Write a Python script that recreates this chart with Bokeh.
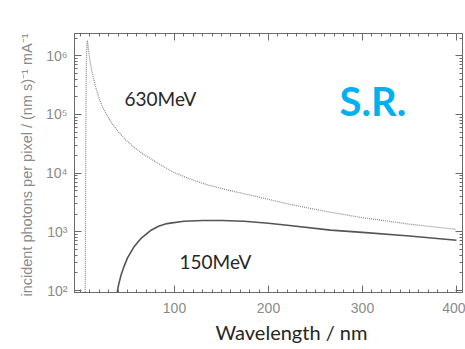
from bokeh.plotting import figure
from bokeh.models import (Range1d, FixedTicker, LinearAxis, LogAxis, Label,
                          CustomJSTickFormatter, Title)
from bokeh.embed import file_html
from bokeh.resources import INLINE

# ---- data ----
lambda_630 = [5.0, 5.3, 5.6, 6.0, 6.5, 7.1, 8.0, 9.2, 10.5, 12.0, 14.0, 16.5,
              19.5, 23.0, 27.7, 33, 40, 48, 57, 68, 80, 98, 115, 135, 160,
              190, 220, 260, 300, 350, 400]
flux_630 = [50, 1000, 32000, 320000, 1200000, 1820000, 1510000, 1000000,
            740000, 550000, 400000, 282000, 195000, 138000, 100000, 72000,
            51000, 37000, 27500, 20400, 15500, 10500, 8100, 6300, 5000, 3900,
            3000, 2240, 1740, 1350, 1100]

lambda_150 = [38.0, 39.0, 40.5, 43, 46, 50, 56.7, 65, 74.5, 83, 92, 110, 130,
              150, 174, 200, 220, 266, 300, 350, 400]
flux_150 = [70, 92, 125, 180, 250, 360, 550, 790, 1050, 1240, 1380, 1510,
            1560, 1560, 1510, 1400, 1290, 1070, 980, 850, 720]

x_major = [100, 200, 300, 400]
x_minor = list(range(0, 410, 10))
y_major = [1e2, 1e3, 1e4, 1e5, 1e6]
y_minor = [k * 10 ** n for n in range(1, 7) for k in range(2, 10)]

label_630 = "630MeV"
label_150 = "150MeV"
label_sr = "S.R."
x_title = "Wavelength / nm"
y_title = "incident photons per pixel / (nm s)\u207b\u00b9  mA\u207b\u00b9"

AX = "#6a6a6a"
TXT = "#8a8a8a"

p = figure(width=465, height=349, y_axis_type="log",
           x_range=Range1d(-6.4, 406.4), y_range=Range1d(92.5, 2.39e6),
           output_backend="svg", toolbar_location=None,
           min_border_left=74, min_border_right=3, min_border_top=33,
           min_border_bottom=57)
p.background_fill_color = "white"
p.border_fill_color = "white"
p.outline_line_color = AX
p.grid.visible = False

sup_code = """
const s = "\u2070\u00b9\u00b2\u00b3\u2074\u2075\u2076\u2077\u2078\u2079";
const e = Math.round(Math.log10(tick));
return "10" + String(e).split("").map(c => s[+c]).join("");
"""

def style_axis(ax, show):
    ax.axis_line_color = AX
    ax.major_tick_line_color = AX
    ax.minor_tick_line_color = AX
    ax.major_tick_in = 7
    ax.major_tick_out = 0
    ax.minor_tick_in = 3
    ax.minor_tick_out = 0
    if not show:
        ax.formatter = CustomJSTickFormatter(code="return '';")
        ax.major_label_text_font_size = "0px"
        ax.major_label_standoff = 0
    else:
        ax.major_label_text_font = "Liberation Sans"
        ax.major_label_text_font_size = "14px"
        ax.major_label_text_color = TXT

xt = FixedTicker(ticks=x_major, minor_ticks=x_minor)
yt = FixedTicker(ticks=y_major, minor_ticks=y_minor)

p.xaxis.ticker = xt
p.yaxis.ticker = yt
style_axis(p.xaxis[0], True)
style_axis(p.yaxis[0], True)
p.xaxis.major_label_standoff = 10
p.yaxis.major_label_standoff = 7
p.yaxis.formatter = CustomJSTickFormatter(code=sup_code)
p.yaxis.axis_label = y_title
p.yaxis.axis_label_text_font = "Liberation Sans"
p.yaxis.axis_label_text_font_size = "14.5px"
p.yaxis.axis_label_text_font_style = "normal"
p.yaxis.axis_label_text_color = TXT
p.yaxis.axis_label_standoff = 8

top = LinearAxis(ticker=FixedTicker(ticks=x_major, minor_ticks=x_minor))
style_axis(top, False)
p.add_layout(top, "above")
right = LogAxis(ticker=FixedTicker(ticks=y_major, minor_ticks=y_minor))
style_axis(right, False)
p.add_layout(right, "right")

p.line(lambda_630, flux_630, line_color="#8f8f8f", line_width=1.3,
       line_dash="1 1")
p.line(lambda_150, flux_150, line_color="#555555", line_width=1.6)

p.add_layout(Label(x=85, y=1.86e5, text=label_630, text_align="center",
                   text_baseline="middle", text_font="Lato",
                   text_font_size="19px", text_color="#262626"))
p.add_layout(Label(x=143.6, y=312, text=label_150, text_align="center",
                   text_baseline="middle", text_font="Lato",
                   text_font_size="19px", text_color="#262626"))
p.add_layout(Label(x=311, y=1.66e5, text=label_sr, text_align="center",
                   text_baseline="middle", text_font="Lato",
                   text_font_size="40px", text_font_style="bold",
                   text_color="#00B0F0"))

p.add_layout(Title(text=x_title, align="left", offset=141,
                   text_font="Lato", text_font_size="20px",
                   text_font_style="normal", text_color="#262626",
                   standoff=4), "below")

open("out.html", "w").write(file_html(p, INLINE))
